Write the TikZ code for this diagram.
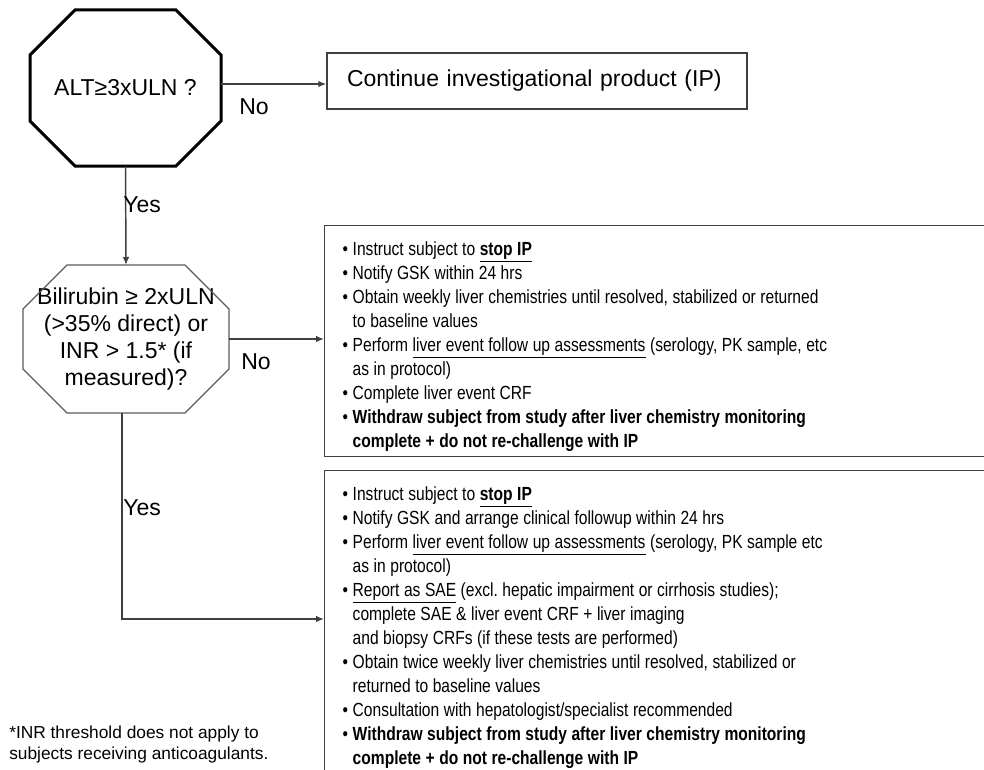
\documentclass[tikz,border=0pt]{standalone}
\usepackage{fontspec}
\setmainfont{Liberation Sans}
\newfontfamily\narrowfont{Liberation Sans}[FakeStretch=0.82]
\usetikzlibrary{shapes.misc,arrows.meta,positioning,calc}

\definecolor{linegray}{HTML}{404040}
\definecolor{octgray}{HTML}{5A5A5A}

\newcommand{\mainsize}{\fontsize{17.25}{20.25}\selectfont}
\newcommand{\listsize}{\narrowfont\fontsize{14.25}{18}\selectfont\parskip=0pt}
\newcommand{\notesize}{\fontsize{13}{15.75}\selectfont}
\newcommand{\bitem}[1]{\par\noindent\spaceskip=3.4pt plus 1pt minus .5pt\relax
  \xspaceskip=3.4pt plus 1pt minus .5pt\relax
  \hangindent=7.5pt\hangafter=1\makebox[7.5pt][l]{\textbullet}#1}
% octagon drawn round a plain rectangular node
\newcommand{\octframe}[3]{%
  \draw[#1] ([xshift=#3]#2.north west) -- ([xshift=-#3]#2.north east) -- ([yshift=-#3]#2.north east)
    -- ([yshift=#3]#2.south east) -- ([xshift=-#3]#2.south east) -- ([xshift=#3]#2.south west)
    -- ([yshift=#3]#2.south west) -- ([yshift=-#3]#2.north west) -- cycle;}

\begin{document}
\begin{tikzpicture}[x=0.75pt,y=-0.75pt,
    octa/.style={rectangle,align=center,font=\mainsize,inner sep=0pt,outer sep=0pt},
    plainbox/.style={draw=linegray,line width=1.1pt,font=\mainsize,align=left,
      text width=285pt,inner xsep=15pt,minimum height=42pt},
    listbox/.style={draw=linegray,line width=1.1pt,font=\listsize,align=left,
      text width=480pt,inner xsep=13.5pt,inner ysep=4pt,anchor=north west},
    flow/.style={draw=linegray,line width=1.1pt,-{Latex[length=6pt,width=5pt]}},
    lbl/.style={font=\mainsize,inner sep=0pt}]
  \useasboundingbox (0,0) rectangle (984,770);
  \clip (0,0) rectangle (984,770);

  % decisions
  \node[octa,minimum width=143.25pt,minimum height=117pt] (q1) at (125.5,88) {ALT≥3xULN ?};
  \octframe{black,line width=2.25pt,line join=miter}{q1}{33.75pt}
  \node[octa,minimum width=154.5pt,minimum height=111pt] (q2) at (126,339)
    {Bilirubin ≥ 2xULN\\(>35\% direct) or\\INR > 1.5* (if\\measured)?};
  \octframe{octgray,line width=1pt}{q2}{33pt}

  % actions
  \node[plainbox] (cont) at (537,81) {Continue investigational product (IP)};
  \node[listbox] (stopbox) at (324,225) {%
    \bitem{Instruct subject to \textbf{\underline{stop IP}}}
    \bitem{Notify GSK within 24 hrs}
    \bitem{Obtain weekly liver chemistries until resolved, stabilized or returned\newline to baseline values}
    \bitem{Perform \underline{liver event follow up assessments} (serology, PK sample, etc\newline as in protocol)}
    \bitem{Complete liver event CRF}
    \bitem{\textbf{Withdraw subject from study after liver chemistry monitoring\newline complete + do not re-challenge with IP}}\par};
  \node[listbox] (saebox) at (324,470) {%
    \bitem{Instruct subject to \textbf{\underline{stop IP}}}
    \bitem{Notify GSK and arrange clinical followup within 24 hrs}
    \bitem{Perform \underline{liver event follow up assessments} (serology, PK sample etc\newline as in protocol)}
    \bitem{\underline{Report as SAE} (excl. hepatic impairment or cirrhosis studies);\newline complete SAE \& liver event CRF + liver imaging\newline and biopsy CRFs (if these tests are performed)}
    \bitem{Obtain twice weekly liver chemistries until resolved, stabilized or\newline returned to baseline values}
    \bitem{Consultation with hepatologist/specialist recommended}
    \bitem{\textbf{Withdraw subject from study after liver chemistry monitoring\newline complete + do not re-challenge with IP}}\par};

  % connectors
  \coordinate (bend) at (122,619);
  \draw[flow] ([yshift=3pt]q1.east) -- ([yshift=3pt]q1.east -| cont.west);
  \draw[flow] (q1.south) -- (q2.north);
  \draw[flow] (q2.east) -- (q2.east -| stopbox.west);
  \draw[flow] (q2.south -| bend) -- (bend) -- (bend -| saebox.west);

  % labels
  \node[lbl] (no1) at (254,107) {No};
  \node[lbl,anchor=west] (yes1) at (123,205) {Yes};
  \node[lbl] (no2) at (256,362) {No};
  \node[lbl,anchor=west] (yes2) at (123,508) {Yes};

  \node[anchor=west,align=left,font=\notesize,inner sep=0pt] (note) at (9,745)
    {*INR threshold does not apply to\\subjects receiving anticoagulants.};
\end{tikzpicture}
\end{document}
